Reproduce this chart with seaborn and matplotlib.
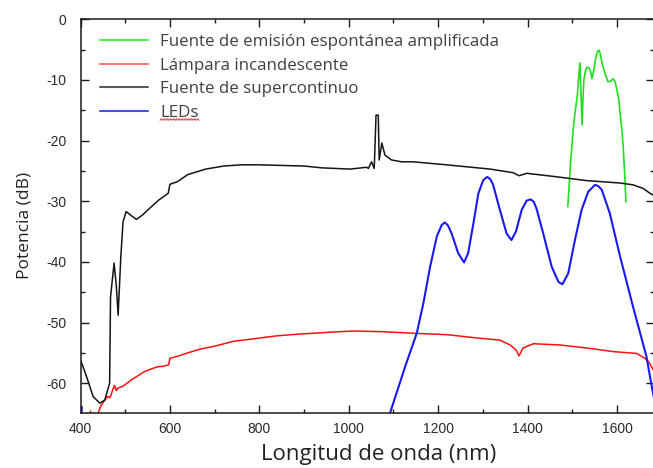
import numpy as np
import pandas as pd
import matplotlib
matplotlib.use("Agg")
import matplotlib.pyplot as plt
from matplotlib.lines import Line2D
from matplotlib.transforms import IdentityTransform
import seaborn as sns

# ---- spectra (wavelength in nm, power in dB) ----
ase_nm = [1490, 1496, 1502, 1506, 1511, 1515, 1517, 1519, 1522, 1524, 1526, 1530, 1533,
          1537, 1541, 1544, 1548, 1553, 1557, 1560, 1563, 1567, 1573, 1580, 1586, 1591,
          1596, 1600, 1604, 1607, 1611, 1614, 1618, 1620]
ase_db = [-30.9, -24.0, -18.2, -15.5, -12.8, -9.0, -7.2, -11.0, -17.4, -13.0, -10.0, -8.3, -7.9,
          -8.0, -8.6, -9.8, -8.5, -6.2, -5.2, -5.1, -5.8, -7.3, -8.9, -10.3, -10.2, -9.8,
          -10.3, -11.7, -13.2, -15.4, -18.2, -21.0, -26.5, -30.1]

lamp_nm = [422, 426, 438, 445, 452, 461, 466, 472, 476, 480, 484, 495, 513, 530, 543, 560,
           573, 586, 597, 600, 620, 640, 667, 700, 742, 797, 839, 891, 958, 1010, 1071,
           1152, 1219, 1293, 1338, 1361, 1374, 1381, 1390, 1413, 1472, 1532, 1592, 1644,
           1663, 1672, 1681]
lamp_db = [-64.6, -65.5, -65.2, -63.8, -63.0, -62.2, -62.4, -61.1, -60.4, -61.2, -60.8, -60.5,
           -59.5, -58.7, -58.1, -57.6, -57.3, -57.2, -57.0, -55.9, -55.5, -55.0, -54.4, -53.9,
           -53.1, -52.6, -52.2, -51.9, -51.6, -51.4, -51.5, -51.8, -52.0, -52.6, -52.9, -53.7,
           -54.5, -55.5, -54.2, -53.5, -53.7, -54.2, -54.8, -55.1, -55.9, -56.6, -57.8]

sc_nm = [400, 408, 416, 428, 443, 454, 465, 467, 471, 475, 480, 484, 487, 490, 495, 502,
         512, 525, 538, 551, 575, 596, 600, 616, 640, 680, 720, 760, 800, 850, 900, 940,
         1003, 1040, 1044, 1051, 1057, 1061, 1066, 1068, 1074, 1081, 1096, 1118, 1144,
         1219, 1316, 1368, 1381, 1398, 1457, 1532, 1607, 1636, 1659, 1674, 1681]
sc_db = [-56.2, -57.8, -59.5, -62.2, -63.3, -62.8, -60.0, -45.8, -43.0, -40.2, -44.0, -48.8,
         -44.0, -39.2, -33.4, -31.7, -32.3, -33.0, -32.3, -31.4, -29.8, -28.7, -27.2, -26.8,
         -25.6, -24.7, -24.2, -24.0, -24.0, -24.1, -24.2, -24.5, -24.7, -24.4, -24.6, -23.5,
         -24.6, -15.8, -15.8, -23.2, -20.4, -22.4, -23.2, -23.5, -23.5, -24.0, -24.7, -25.3,
         -25.8, -25.4, -25.9, -26.6, -27.0, -27.3, -27.9, -28.7, -29.0]

led_nm = [1092, 1126, 1152, 1167, 1182, 1197, 1208, 1215, 1222, 1230, 1245, 1258, 1267,
          1279, 1290, 1301, 1310, 1317, 1323, 1338, 1353, 1364, 1374, 1387, 1398, 1407,
          1414, 1420, 1435, 1454, 1469, 1478, 1491, 1506, 1521, 1536, 1551, 1558, 1566,
          1584, 1607, 1636, 1666, 1678, 1683]
led_db = [-65.0, -57.3, -51.8, -46.8, -40.8, -35.8, -33.9, -33.5, -34.0, -35.3, -38.6, -40.1,
          -38.6, -33.6, -28.7, -26.5, -26.0, -26.4, -27.3, -31.4, -35.3, -36.4, -35.0, -31.4,
          -29.9, -29.7, -30.1, -31.2, -35.3, -40.8, -43.3, -43.7, -41.9, -36.4, -31.4, -28.4,
          -27.3, -27.5, -28.1, -32.0, -39.1, -47.4, -55.6, -60.6, -62.5]
led_vis_nm = [401, 403]
led_vis_db = [-65.5, -64.0]

labels = ["Fuente de emisión espontánea amplificada", "Lámpara incandescente",
          "Fuente de supercontinuo", "LEDs"]
line_colors = ["#1fe01f", "#ff1010", "#151515", "#1a1af0"]
legend_colors = ["#4ff04f", "#ff7878", "#5a5a5a", "#4a4aff"]

sns.set_style("ticks")
plt.rcParams["font.family"] = ["Liberation Sans", "DejaVu Sans"]
plt.rcParams["axes.unicode_minus"] = False

fig = plt.figure(figsize=(6.53, 4.68), dpi=100)
ax = fig.add_axes([0.1234, 0.1165, 0.8782, 0.8423])

series = [(ase_nm, ase_db), (lamp_nm, lamp_db), (sc_nm, sc_db), (led_nm, led_db)]
widths = [1.2, 1.1, 1.1, 1.5]
for (xs, ys), c, lw in zip(series, line_colors, widths):
    df = pd.DataFrame({"nm": xs, "dB": ys})
    sns.lineplot(data=df, x="nm", y="dB", sort=False, estimator=None, color=c,
                 linewidth=lw, ax=ax, legend=False)
sns.lineplot(data=pd.DataFrame({"nm": led_vis_nm, "dB": led_vis_db}), x="nm", y="dB",
             sort=False, estimator=None, color=line_colors[3], linewidth=1.5, ax=ax,
             legend=False)

ax.set_xlim(400, 1683)
ax.set_ylim(-65, 0)
ax.set_xticks([400, 600, 800, 1000, 1200, 1400, 1600])
ax.set_xticks(np.arange(500, 1700, 200), minor=True)
ax.set_yticks([-60, -50, -40, -30, -20, -10, 0])
ax.set_yticks(np.arange(-55, 0, 10), minor=True)

for s in ax.spines.values():
    s.set_visible(True)
    s.set_linewidth(1.1)
    s.set_color("#1a1a1a")
ax.tick_params(which="both", direction="in", top=True, right=True, color="#1a1a1a",
               width=1.0, labelsize=10, labelcolor="#2a2a2a")
ax.tick_params(which="major", length=6)
ax.tick_params(which="minor", length=3)
ax.tick_params(axis="y", pad=10)
ax.tick_params(axis="x", pad=6)

ax.set_xlabel("Longitud de onda (nm)", fontsize=16, family="Open Sans", color="#222222")
ax.set_ylabel("Potencia (dB)", fontsize=12.5, family="Open Sans", color="#222222")
ax.xaxis.set_label_coords(0.520, -0.078)
ax.yaxis.set_label_coords(-0.084, 0.478)

handles = [Line2D([], [], color=c, linewidth=1.5) for c in legend_colors]
leg = ax.legend(handles, labels, loc="upper left", bbox_to_anchor=(0.0338, 0.962),
                frameon=False, borderpad=0, borderaxespad=0, handlelength=2.85,
                handletextpad=0.70, labelspacing=0.44,
                prop={"family": "Open Sans", "size": 12.2})
for t in leg.get_texts():
    t.set_color("#404040")

# spell-check style squiggle under "LEDs"
sq_x = np.arange(160, 200.5, 1.5)
sq_y = 468 - 119.5 + np.where(np.arange(len(sq_x)) % 2 == 0, -0.8, 0.8)
fig.add_artist(Line2D(sq_x, sq_y, transform=IdentityTransform(), color="#e03030",
                      linewidth=0.7))

fig.savefig("out.png", dpi=100)
